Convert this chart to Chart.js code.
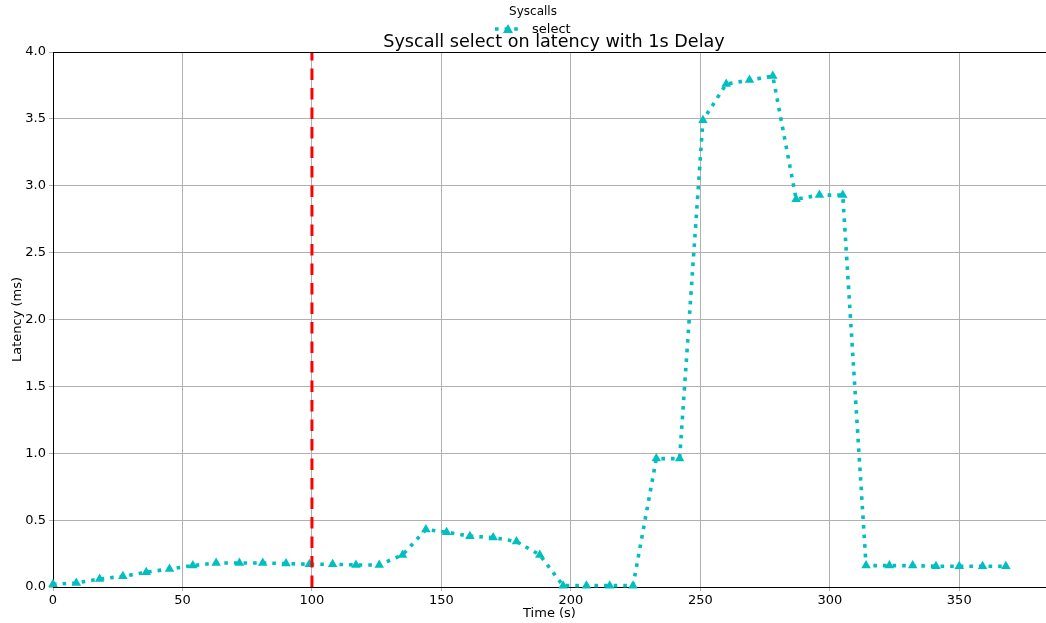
<!DOCTYPE html>
<html>
<head>
<meta charset="utf-8">
<script src="https://cdn.jsdelivr.net/npm/chart.js@4"></script>
<style>
  html, body { margin: 0; padding: 0; background: #fff; }
  #wrap { width: 1046px; height: 623px; }
</style>
</head>
<body>
<div id="wrap"><canvas id="chart" width="1046" height="623"></canvas></div>
<script>
// time of each sample (s)
const timeSec = [0, 9, 18, 27, 36, 45, 54, 63, 72, 81, 90, 99, 108, 117, 126, 135, 144, 152,
  161, 170, 179, 188, 197, 206, 215, 224, 233, 242, 251, 260, 269, 278, 287, 296, 305,
  314, 323, 332, 341, 350, 359, 368];
// select latency (ms)
const latencyMs = [0.02, 0.03, 0.06, 0.08, 0.11, 0.135, 0.16, 0.18, 0.18, 0.18, 0.175, 0.17,
  0.17, 0.165, 0.165, 0.24, 0.43, 0.41, 0.38, 0.37, 0.34, 0.24, 0.01, 0.01, 0.01, 0.01,
  0.96, 0.96, 3.49, 3.76, 3.79, 3.82, 2.90, 2.93, 2.93, 0.16, 0.16, 0.16, 0.155, 0.155,
  0.155, 0.155];
// the delay marker
const delayAt = 100;

const X_TICKS = [0, 50, 100, 150, 200, 250, 300, 350];
const CYAN = "#00bfbf";
const GRID = "#b0b0b0";
const FONT = "'DejaVu Sans', sans-serif";

// title + legend drawn by hand so they overlap like the original
const headerPlugin = {
  id: "header",
  afterDraw(chart) {
    const ctx = chart.ctx;
    ctx.save();
    ctx.fillStyle = "#000";
    ctx.textBaseline = "alphabetic";

    ctx.font = "12px " + FONT;
    ctx.textAlign = "center";
    ctx.fillText("Syscalls", 533, 15);

    // legend sample line + marker
    ctx.strokeStyle = CYAN;
    ctx.lineWidth = 3.6;
    ctx.setLineDash([3.6, 6]);
    ctx.beginPath();
    ctx.moveTo(495, 29);
    ctx.lineTo(521, 29);
    ctx.stroke();
    ctx.setLineDash([]);
    ctx.fillStyle = CYAN;
    ctx.beginPath();
    ctx.moveTo(508, 24);
    ctx.lineTo(513, 33);
    ctx.lineTo(503, 33);
    ctx.closePath();
    ctx.fill();

    ctx.fillStyle = "#000";
    ctx.textAlign = "left";
    ctx.font = "13px " + FONT;
    ctx.fillText("select", 532, 33);

    ctx.textAlign = "center";
    ctx.font = "17.6px " + FONT;
    ctx.fillText("Syscall select on latency with 1s Delay", 554, 47);
    ctx.restore();
  },
};

new Chart(document.getElementById("chart"), {
  type: "line",
  data: {
    datasets: [
      {
        label: "select",
        data: timeSec.map((t, i) => ({ x: t, y: latencyMs[i] })),
        borderColor: CYAN,
        backgroundColor: CYAN,
        borderWidth: 3.6,
        borderDash: [3.6, 6],
        pointStyle: "triangle",
        pointRadius: 5.5,
        pointBorderWidth: 0,
        tension: 0,
        clip: 8,
        order: 1,
      },
      {
        label: "delay",
        data: [{ x: delayAt, y: 0 }, { x: delayAt, y: 4 }],
        borderColor: "red",
        borderWidth: 3,
        borderDash: [11.5, 8],
        pointRadius: 0,
        order: 0,
      },
    ],
  },
  options: {
    responsive: false,
    animation: false,
    layout: { autoPadding: false, padding: { top: 52, right: 0, left: 0, bottom: 0 } },
    plugins: {
      legend: { display: false },
      title: { display: false },
      tooltip: { enabled: false },
    },
    scales: {
      x: {
        type: "linear",
        min: 0,
        max: 383.5,
        afterBuildTicks: (s) => { s.ticks = X_TICKS.map((v) => ({ value: v })); },
        afterFit: (s) => {
          s.height = 36;
          s.paddingLeft = 0; s.paddingRight = 0; s.paddingTop = 0; s.paddingBottom = 0;
        },
        ticks: { color: "#000", font: { family: FONT, size: 13 }, padding: 2, maxRotation: 0 },
        grid: { color: GRID, lineWidth: 1, tickColor: GRID, tickLength: 4 },
        border: { color: "#000", width: 1 },
        title: { display: true, text: "Time (s)", color: "#000", font: { family: FONT, size: 13 }, padding: { top: 0, bottom: 2 } },
      },
      y: {
        min: 0,
        max: 4,
        afterFit: (s) => {
          s.width = 53;
          s.paddingLeft = 0; s.paddingRight = 0; s.paddingTop = 0; s.paddingBottom = 0;
        },
        ticks: {
          stepSize: 0.5,
          color: "#000",
          font: { family: FONT, size: 13 },
          padding: 3,
          callback: (v) => v.toFixed(1),
        },
        grid: { color: GRID, lineWidth: 1, tickColor: GRID, tickLength: 4 },
        border: { color: "#000", width: 1 },
        title: { display: true, text: "Latency (ms)", color: "#000", font: { family: FONT, size: 13 }, padding: { top: 10, bottom: 0 } },
      },
    },
  },
  plugins: [headerPlugin,
    {
      id: "topSpine",
      afterDraw(chart) {
        const a = chart.chartArea, ctx = chart.ctx;
        ctx.save();
        ctx.strokeStyle = "#000";
        ctx.lineWidth = 1;
        ctx.beginPath();
        ctx.moveTo(a.left, a.top + 0.5);
        ctx.lineTo(a.right, a.top + 0.5);
        ctx.stroke();
        ctx.restore();
      },
    }],
});
</script>
</body>
</html>
